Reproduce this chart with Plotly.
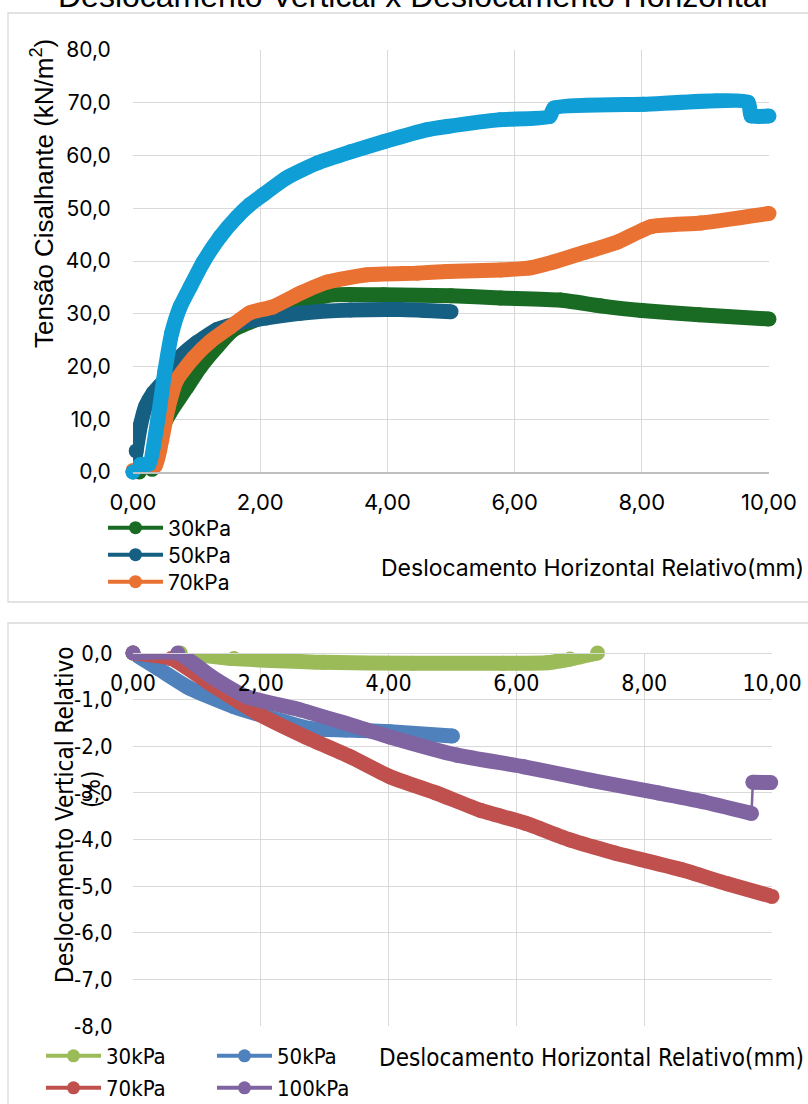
import plotly.graph_objects as go

# ---------------- DATA ----------------
series_names = ["30kPa", "50kPa", "70kPa", "100kPa"]

# Top chart: shear stress (kN/m2) vs relative horizontal displacement (mm)
x30_top = [0.10, 0.30, 0.43, 0.58, 0.85, 1.06, 1.32, 1.57, 2.00, 2.63, 3.15, 3.94, 5.00, 5.78, 6.72, 7.35, 8.00, 8.90, 10.00]
y30_top = [0.0, 0.5, 7.4, 11.2, 16.1, 19.9, 23.7, 26.9, 29.2, 32.3, 33.6, 33.6, 33.4, 33.0, 32.6, 31.5, 30.6, 29.8, 29.0]

x50_top = [0.00, 0.05, 0.12, 0.20, 0.32, 0.50, 0.74, 1.00, 1.32, 1.69, 2.10, 2.63, 3.42, 4.20, 5.00]
y50_top = [0.0, 4.0, 9.0, 12.5, 15.0, 17.5, 21.8, 24.5, 27.0, 28.3, 29.2, 30.1, 30.7, 30.8, 30.4]

x70_top = [0.00, 0.35, 0.45, 0.55, 0.69, 0.95, 1.21, 1.53, 1.84, 2.20, 2.63, 3.05, 3.68, 4.47, 4.94, 5.78, 6.25, 6.61, 7.09, 7.62, 8.14, 8.93, 10.00]
y70_top = [0.3, 1.2, 6.0, 12.0, 17.5, 21.6, 24.7, 27.5, 30.2, 31.3, 33.9, 36.0, 37.4, 37.7, 38.0, 38.3, 38.7, 39.8, 41.6, 43.6, 46.5, 47.2, 49.0]

x100_top = [0.00, 0.12, 0.25, 0.39, 0.50, 0.61, 0.74, 0.90, 1.10, 1.37, 1.64, 1.84, 2.05, 2.42, 2.90, 3.42, 3.94, 4.63, 4.94, 5.78, 6.55, 6.62, 8.03, 9.67, 9.72, 10.00]
y100_top = [0.0, 1.4, 1.5, 9.9, 19.0, 26.4, 31.3, 35.1, 39.7, 44.6, 48.4, 50.7, 52.6, 55.8, 58.6, 60.7, 62.6, 64.9, 65.5, 66.8, 67.4, 69.0, 69.7, 70.1, 67.5, 67.5]

# Bottom chart: relative vertical displacement (%) vs relative horizontal displacement (mm)
x30_bot = [0.00, 0.74, 1.58, 2.98, 4.38, 5.79, 6.48, 6.84, 7.27]
y30_bot = [0.00, 0.00, -0.12, -0.20, -0.22, -0.22, -0.21, -0.13, 0.00]

x50_bot = [0.00, 0.39, 0.88, 1.58, 2.28, 2.77, 3.33, 4.02, 5.00]
y50_bot = [0.00, -0.33, -0.75, -1.15, -1.44, -1.62, -1.65, -1.69, -1.78]

x70_bot = [0.00, 0.60, 1.23, 1.93, 2.70, 3.41, 4.03, 4.74, 5.43, 6.14, 6.84, 7.54, 8.59, 9.30, 10.00]
y70_bot = [0.00, -0.12, -0.68, -1.28, -1.80, -2.23, -2.66, -3.00, -3.37, -3.65, -4.01, -4.29, -4.65, -4.95, -5.22]

x100_bot = [0.00, 0.70, 1.23, 1.78, 2.62, 3.33, 4.02, 5.07, 6.12, 7.17, 8.22, 8.92, 9.68, 9.70, 9.98]
y100_bot = [0.00, 0.00, -0.51, -0.94, -1.22, -1.51, -1.80, -2.19, -2.44, -2.73, -3.00, -3.19, -3.44, -2.77, -2.78]

# Ticks
x_tickvals = [0, 2, 4, 6, 8, 10]
x_ticktext = ["0,00", "2,00", "4,00", "6,00", "8,00", "10,00"]
ytop_tickvals = [0, 10, 20, 30, 40, 50, 60, 70, 80]
ytop_ticktext = ["0,0", "10,0", "20,0", "30,0", "40,0", "50,0", "60,0", "70,0", "80,0"]
ybot_tickvals = [0, -1, -2, -3, -4, -5, -6, -7, -8]
ybot_ticktext = ["0,0", "-1,0", "-2,0", "-3,0", "-4,0", "-5,0", "-6,0", "-7,0", "-8,0"]

# Texts
title_text = "Deslocamento Vertical x Deslocamento Horizontal"
xtitle_text = "Deslocamento Horizontal Relativo(mm)"
ytitle_top = "Tensão Cisalhante (kN/m<sup>2</sup>)"
ytitle_bot = "Deslocamento Vertical Relativo"
ytitle_bot2 = "(%)"

# ---------------- STYLE ----------------
W, H = 808, 1104
def px(v): return v / W
def py(v): return 1 - v / H

top_colors = ["#196B24", "#156082", "#E97132", "#0F9ED5"]
bot_colors = ["#9BBB59", "#4F81BD", "#C0504D", "#8064A2"]
FONT_TOP = "Inter, Liberation Sans, Arial, sans-serif"
FONT_ARIAL = "Liberation Sans, Arial, sans-serif"
FONT_BOT = "DejaVu Sans Condensed, Liberation Sans Narrow, Arial Narrow, sans-serif"
BAND = 15
GRID = "#D9D9D9"
SMOOTH = dict(shape="spline", smoothing=0.5)

fig = go.Figure()

top_data = [(x30_top, y30_top), (x50_top, y50_top), (x70_top, y70_top), (x100_top, y100_top)]
for (xs, ys), c in zip(top_data, top_colors):
    fig.add_trace(go.Scatter(x=xs, y=ys, mode="lines+markers", xaxis="x", yaxis="y",
                             line=dict(color=c, width=BAND, **SMOOTH), marker=dict(color=c, size=BAND),
                             showlegend=False, cliponaxis=False, hoverinfo="skip"))

bot_data = [(x30_bot, y30_bot), (x50_bot, y50_bot), (x70_bot, y70_bot)]
for (xs, ys), c in zip(bot_data, bot_colors[:3]):
    fig.add_trace(go.Scatter(x=xs, y=ys, mode="lines+markers", xaxis="x2", yaxis="y2",
                             line=dict(color=c, width=BAND, **SMOOTH), marker=dict(color=c, size=BAND),
                             showlegend=False, cliponaxis=False, hoverinfo="skip"))
# 100kPa: thick band, thin connector at the jump, thick tail
c100 = bot_colors[3]
fig.add_trace(go.Scatter(x=x100_bot[-3:-1], y=y100_bot[-3:-1], mode="lines", xaxis="x2", yaxis="y2",
                         line=dict(color=c100, width=2.5), showlegend=False, cliponaxis=False, hoverinfo="skip"))
fig.add_trace(go.Scatter(x=x100_bot[:-2] + [None] + x100_bot[-2:], y=y100_bot[:-2] + [None] + y100_bot[-2:],
                         mode="lines+markers", xaxis="x2", yaxis="y2", connectgaps=False,
                         line=dict(color=c100, width=BAND, **SMOOTH), marker=dict(color=c100, size=BAND),
                         showlegend=False, cliponaxis=False, hoverinfo="skip"))

# Legend proxy entries
top_leg_pos = [528, 555, 582]
for i, (name, c) in enumerate(zip(series_names[:3], top_colors[:3])):
    lid = "legend" if i == 0 else "legend%d" % (i + 1)
    fig.add_trace(go.Scatter(x=[None], y=[None], mode="lines+markers", xaxis="x", yaxis="y", name=name,
                             line=dict(color=c, width=4), marker=dict(color=c, size=13), legend=lid))
bot_leg_pos = [(41, 1056), (212, 1056), (41, 1088), (212, 1088)]
for i, (name, c) in enumerate(zip(series_names, bot_colors)):
    lid = "legend%d" % (i + 4)
    fig.add_trace(go.Scatter(x=[None], y=[None], mode="lines+markers", xaxis="x2", yaxis="y2", name=name,
                             line=dict(color=c, width=4), marker=dict(color=c, size=13), legend=lid))

legends = {}
for i, yy in enumerate(top_leg_pos):
    lid = "legend" if i == 0 else "legend%d" % (i + 1)
    legends[lid] = dict(x=px(103), y=py(yy), xanchor="left", yanchor="middle", bgcolor="rgba(0,0,0,0)",
                        font=dict(family=FONT_TOP, size=21, color="#000000"), itemsizing="trace", itemwidth=55)
for i, (xx, yy) in enumerate(bot_leg_pos):
    lid = "legend%d" % (i + 4)
    legends[lid] = dict(x=px(xx), y=py(yy), xanchor="left", yanchor="middle", bgcolor="rgba(0,0,0,0)",
                        font=dict(family=FONT_BOT, size=22, color="#000000"), itemsizing="trace", itemwidth=55)

fig.update_layout(
    template="none",
    width=W, height=H, margin=dict(l=0, r=0, t=0, b=0, pad=0, autoexpand=False),
    paper_bgcolor="white", plot_bgcolor="white",
    showlegend=True,
    **legends,
    xaxis=dict(domain=[px(133), px(769)], range=[0, 10], anchor="y", automargin=False,
               tickvals=x_tickvals, ticktext=x_ticktext,
               tickfont=dict(family=FONT_TOP, size=22, color="#000000"),
               ticks="outside", ticklen=10, tickcolor="rgba(0,0,0,0)",
               showgrid=True, gridcolor=GRID, gridwidth=1.3, zeroline=False,
               showline=True, linecolor="#BFBFBF", linewidth=1.5),
    yaxis=dict(domain=[py(472), py(50)], range=[0, 80], anchor="x", automargin=False,
               tickvals=ytop_tickvals, ticktext=ytop_ticktext,
               tickfont=dict(family=FONT_TOP, size=21, color="#000000"),
               ticks="outside", ticklen=17, tickcolor="rgba(0,0,0,0)",
               showgrid=True, gridcolor=GRID, gridwidth=1.3, zeroline=False, showline=False),
    xaxis2=dict(domain=[px(133), px(772)], range=[0, 10], anchor="free", position=py(653), side="bottom",
                automargin=False,
                tickvals=x_tickvals, ticktext=x_ticktext,
                tickfont=dict(family=FONT_BOT, size=23, color="#000000"),
                ticks="outside", ticklen=9, tickcolor="rgba(0,0,0,0)",
                showgrid=True, gridcolor=GRID, gridwidth=1.3, zeroline=False,
                showline=True, linecolor=GRID, linewidth=1.3),
    yaxis2=dict(domain=[py(1026), py(653)], range=[-8, 0], anchor="x2", automargin=False,
                tickvals=ybot_tickvals, ticktext=ybot_ticktext,
                tickfont=dict(family=FONT_BOT, size=22, color="#000000"),
                ticks="outside", ticklen=15, tickcolor="rgba(0,0,0,0)",
                showgrid=True, gridcolor=GRID, gridwidth=1.3, zeroline=False, showline=False),
    shapes=[
        dict(type="rect", xref="paper", yref="paper", x0=px(8), x1=px(830), y0=py(602), y1=py(13),
             line=dict(color=GRID, width=1.3), fillcolor="rgba(0,0,0,0)", layer="below"),
        dict(type="rect", xref="paper", yref="paper", x0=px(8), x1=px(830), y0=py(1130), y1=py(623),
             line=dict(color=GRID, width=1.3), fillcolor="rgba(0,0,0,0)", layer="below"),
    ],
    annotations=[
        dict(text=title_text, xref="paper", yref="paper", x=px(413), y=py(16), xanchor="center", yanchor="bottom",
             showarrow=False, font=dict(family=FONT_ARIAL, size=32, color="#000000")),
        dict(text=ytitle_top, xref="paper", yref="paper", x=px(42), y=py(194), xanchor="center", yanchor="middle",
             textangle=-90, showarrow=False, font=dict(family=FONT_ARIAL, size=26, color="#000000")),
        dict(text=xtitle_text, xref="paper", yref="paper", x=px(806), y=py(568), xanchor="right", yanchor="middle",
             showarrow=False, font=dict(family=FONT_TOP, size=23, color="#000000")),
        dict(text=xtitle_text, xref="paper", yref="paper", x=px(806), y=py(1058), xanchor="right", yanchor="middle",
             showarrow=False, font=dict(family=FONT_BOT, size=24, color="#000000")),
        dict(text=ytitle_bot, xref="paper", yref="paper", x=px(65), y=py(815), xanchor="center", yanchor="middle",
             textangle=-90, showarrow=False, font=dict(family=FONT_BOT, size=24, color="#000000")),
        dict(text=ytitle_bot2, xref="paper", yref="paper", x=px(92), y=py(790), xanchor="center", yanchor="middle",
             textangle=-90, showarrow=False, font=dict(family=FONT_BOT, size=24, color="#000000")),
    ],
)

fig.write_html("out.html")
